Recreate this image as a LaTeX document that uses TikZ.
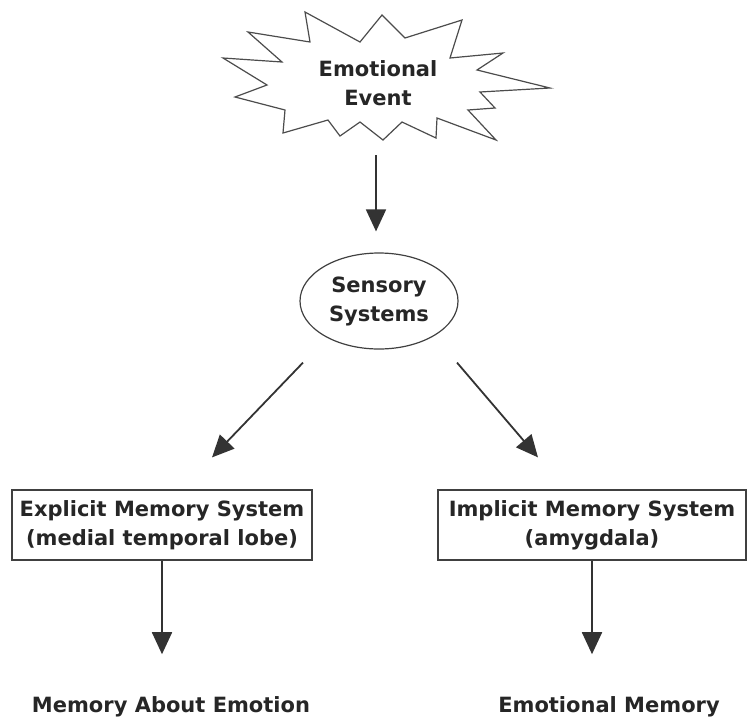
\documentclass[tikz,border=0pt]{standalone}
\usepackage{fontspec}
\setmainfont{DejaVu Sans}
\usetikzlibrary{arrows.meta,shapes.geometric}

\begin{document}
\begin{tikzpicture}[x=1pt,y=-1pt,
  lbl/.style={font=\fontsize{21}{29}\selectfont\bfseries,text=black!85,align=center},
  box/.style={lbl,draw=black!75,line width=1.2pt,minimum height=70pt,inner sep=0pt},
  arr/.style={-{Triangle[length=22pt,width=20pt]},line width=1.8pt,draw=black!80}]
  \useasboundingbox (0,0) rectangle (747,721);
  % the burst round the event
  \draw[line width=1.2pt,black!70,line join=miter,fill=white]
    (283,133) -- (328,120) -- (340,136) -- (360,122) -- (383,140) -- (402,122)
    -- (436,138) -- (437,118) -- (496,140) -- (468,110) -- (495,108) -- (480,92)
    -- (550,88) -- (477,70) -- (503,53) -- (450,58) -- (462,20) -- (405,38)
    -- (382,15) -- (360,42) -- (305,12) -- (310,42) -- (248,32) -- (282,62)
    -- (223,58) -- (267,85) -- (235,97) -- (285,110) -- cycle;
  \node[lbl] (event) at (378,83) {Emotional\\Event};
  \coordinate (evb) at (376,155);
  \node[lbl,ellipse,draw=black!75,line width=1.2pt,minimum width=158pt,
        minimum height=96pt,inner sep=0pt] (sens) at (379,301) {Sensory\\Systems};
  \node[box,minimum width=300pt] (expl) at (162,525) {Explicit Memory System\\(medial temporal lobe)};
  \node[box,minimum width=308pt] (impl) at (592,525) {Implicit Memory System\\(amygdala)};
  \node[lbl] (mae) at (171,707) {Memory About Emotion};
  \node[lbl] (emem) at (609,707) {Emotional Memory};
  % arrows
  \draw[arr,shorten >=21pt] (evb) -- (evb |- sens.north);
  \draw[arr] ([xshift=-76pt,yshift=-13pt]sens.south) -- ([xshift=50pt,yshift=32pt]expl.north);
  \draw[arr] ([xshift=78pt,yshift=-13pt]sens.south) -- ([xshift=-54pt,yshift=32pt]impl.north);
  \draw[arr,shorten >=39pt] (expl.south) -- (expl.south |- mae.north);
  \draw[arr,shorten >=39pt] (impl.south) -- (impl.south |- emem.north);
\end{tikzpicture}
\end{document}
